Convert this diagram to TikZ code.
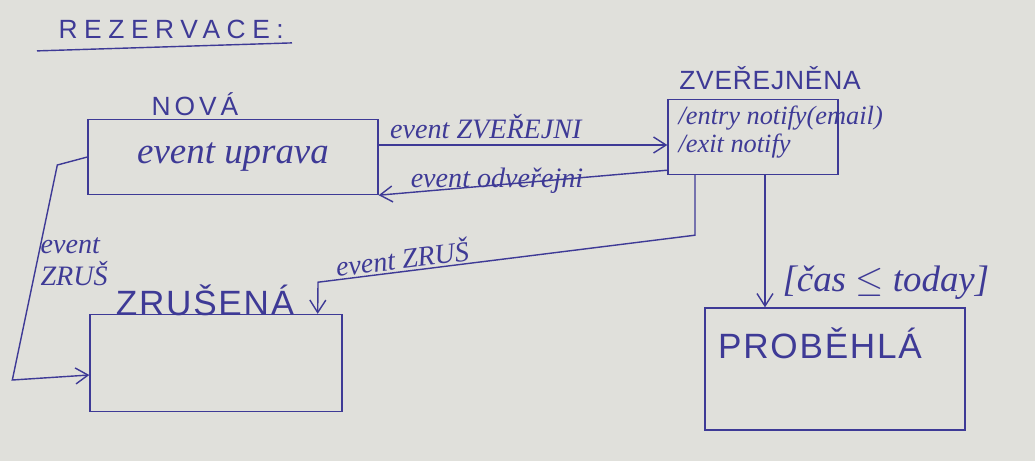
\documentclass[tikz,border=0pt]{standalone}
\usepackage{fontspec}
\setmainfont{Liberation Sans}
\newfontfamily\capsfont{Liberation Sans}
\newfontfamily\handfont{Liberation Serif}
\usetikzlibrary{positioning,arrows.meta}
\definecolor{ink}{RGB}{62,58,150}
\definecolor{paper}{RGB}{224,224,219}

\begin{document}
\begin{tikzpicture}[x=0.02cm, y=-0.02cm, line width=0.8pt, draw=ink, text=ink,
    >={Straight Barb[length=2.5mm,width=3.2mm]},
    state/.style={draw=ink, rectangle, inner sep=0pt},
    caps/.style={font=\capsfont\addfontfeature{LetterSpace=15}\fontsize{15}{15}\selectfont},
    bigcaps/.style={font=\capsfont\addfontfeature{LetterSpace=5}\fontsize{20}{20}\selectfont},
    hand/.style={font=\handfont\itshape\fontsize{21}{23}\selectfont},
    smallhand/.style={font=\handfont\itshape\fontsize{16}{18}\selectfont},
    arr/.style={draw=ink, ->}]

    % Paper
    \fill[paper] (0,0) rectangle (1035,461);

    % Title
    \node[caps, anchor=west, font=\capsfont\addfontfeature{LetterSpace=25}\fontsize{15}{15}\selectfont] (title) at (52,29) {REZERVACE:};
    \draw (title.south west) ++(-15,6) -- ++(255,-8);

    % Nova
    \node[state, hand, minimum width=5.8cm, minimum height=1.5cm] (nova) at (233,157) {event uprava};
    \node[caps] (novaL) at (195,104) {NOVÁ};

    % Zverejnena
    \node[state, minimum width=3.4cm, minimum height=1.5cm] (zver) at (753,137) {};
    \node[caps, font=\capsfont\addfontfeature{LetterSpace=3}\fontsize{15}{15}\selectfont] (zverL) at (770,78) {ZVEŘEJNĚNA};
    \node[smallhand, anchor=west, font=\handfont\itshape\fontsize{15}{17}\selectfont] (entry) at (672,118) {/entry notify(email)};
    \node[smallhand, anchor=west, font=\handfont\itshape\fontsize{15}{17}\selectfont] (exit) at (672,146) {/exit notify};

    % Zrusena
    \node[state, minimum width=5.04cm, minimum height=1.94cm] (zrus) at (216,363) {};
    \node[bigcaps] (zrusL) at (205,300) {ZRUŠENÁ};

    % Probehla
    \node[state, minimum width=5.2cm, minimum height=2.44cm] (prob) at (835,369) {};
    \node[bigcaps] (probL) at (820,343) {PROBĚHLÁ};

    % Zverejni / odverejni
    \draw[arr] ([yshift=0.24cm]nova.east) coordinate (p1) -- (p1 -| zver.west);
    \node[smallhand, anchor=south west] (zverejni) at ([xshift=0.1cm]p1) {event ZVEŘEJNI};
    \draw[arr] ([yshift=0.1cm]zver.south west) -- (nova.south east);
    \node[smallhand] (odver) at (497,181) {event odveřejni};

    % Zrus from nova
    \draw[arr] (nova.west) -- ++(-30,8) -- ++(-45,215) -- ([yshift=-0.24cm]zrus.west);
    \node[smallhand, anchor=west, align=left] (zrus1) at (34,262) {event\\ZRUŠ};

    % Zrus from zverejnena
    \coordinate (zk) at ([xshift=-0.5cm]zrus.north east);
    \draw[arr] ([xshift=-1.16cm]zver.south) -- ++(0,60) -- ++(-377,47) -- (zk);
    \node[smallhand, rotate=7] (zrus2) at (402,257) {event ZRUŠ};

    % Probehla
    \draw[arr] ([xshift=0.24cm]zver.south) coordinate (p2) -- (p2 |- prob.north);
    \node[hand, anchor=west] (cas) at (776,283) {[čas $\le$ today]};
\end{tikzpicture}
\end{document}
